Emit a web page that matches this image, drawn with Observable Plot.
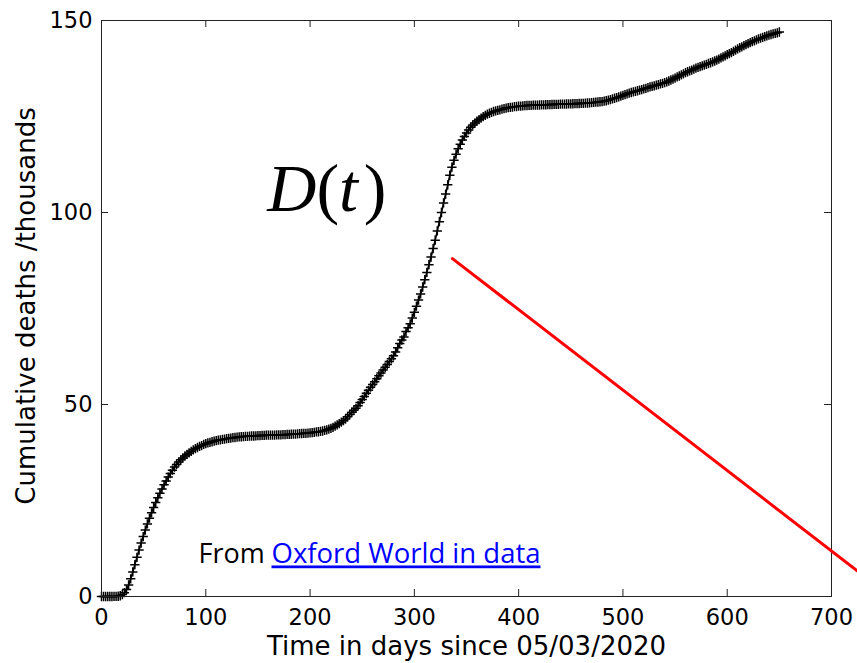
<!DOCTYPE html>
<html>
<head>
<meta charset="utf-8">
<script src="https://cdn.jsdelivr.net/npm/d3@7"></script>
<script src="https://cdn.jsdelivr.net/npm/@observablehq/plot@0.6"></script>
<style>
  html, body { margin: 0; padding: 0; background: #fff; }
  #chart svg { display: block; }
</style>
</head>
<body>
<div id="chart"></div>
<script>
// ---- data ----
// cumulative deaths (thousands), one reading every 2 days from day 0 to day 650
const dayStep = 2;
const deaths = [
  0, 0, 0, 0, 0, 0, 0.01, 0.03, 0.07, 0.2, 0.5, 1.0, 1.8, 3.0, 4.6, 6.4, 8.3, 10.2, 12.1, 13.9,
  15.6, 17.3, 18.9, 20.4, 21.8, 23.2, 24.5, 25.7, 26.9, 28.0, 29.1, 30.1, 31.1, 32.0, 32.9, 33.7, 34.4, 35.0, 35.6, 36.1,
  36.6, 37.0, 37.4, 37.8, 38.2, 38.5, 38.8, 39.1, 39.3, 39.6, 39.8, 40.0, 40.15, 40.3, 40.45, 40.6, 40.7, 40.8, 40.9, 41.0,
  41.1, 41.2, 41.25, 41.35, 41.4, 41.5, 41.55, 41.6, 41.65, 41.7, 41.7, 41.75, 41.8, 41.8, 41.85, 41.9, 41.9, 41.95, 41.95, 42.0,
  42.0, 42.0, 42.05, 42.05, 42.1, 42.1, 42.1, 42.15, 42.15, 42.2, 42.2, 42.25, 42.3, 42.3, 42.35, 42.4, 42.45, 42.5, 42.5, 42.55,
  42.6, 42.7, 42.75, 42.85, 42.9, 43.0, 43.1, 43.25, 43.4, 43.6, 43.8, 44.05, 44.35, 44.7, 45.0, 45.4, 45.8, 46.2, 46.8, 47.4,
  48.0, 48.5, 49.0, 49.7, 50.5, 51.3, 52.1, 52.9, 53.7, 54.5, 55.2, 55.9, 56.7, 57.5, 58.2, 59.0, 59.7, 60.4, 61.2, 61.9,
  62.7, 63.7, 64.8, 65.9, 66.8, 67.6, 69.0, 70.0, 71.0, 72.5, 74.0, 75.6, 77.2, 78.8, 80.6, 82.5, 84.4, 86.4, 88.4, 90.6,
  92.8, 95.2, 97.6, 100.0, 102.5, 104.8, 107.2, 109.7, 111.8, 113.6, 115.2, 116.6, 117.8, 118.9, 119.8, 120.7, 121.5, 122.2, 122.8, 123.3,
  123.8, 124.2, 124.6, 124.95, 125.3, 125.6, 125.85, 126.05, 126.3, 126.45, 126.6, 126.75, 126.9, 127.05, 127.2, 127.3, 127.4, 127.45, 127.55, 127.6,
  127.7, 127.72, 127.78, 127.82, 127.86, 127.9, 127.92, 127.94, 127.96, 127.98, 128.0, 128.02, 128.04, 128.06, 128.08, 128.1, 128.12, 128.14, 128.16, 128.18,
  128.2, 128.22, 128.24, 128.26, 128.28, 128.3, 128.32, 128.34, 128.36, 128.38, 128.4, 128.44, 128.48, 128.52, 128.56, 128.6, 128.66, 128.72, 128.78, 128.84,
  128.9, 129.0, 129.1, 129.25, 129.4, 129.6, 129.75, 129.9, 130.1, 130.3, 130.5, 130.7, 130.9, 131.1, 131.25, 131.4, 131.55, 131.7, 131.85, 132.0,
  132.2, 132.35, 132.5, 132.7, 132.85, 133.0, 133.15, 133.3, 133.5, 133.65, 133.8, 134.0, 134.25, 134.5, 134.75, 135.0, 135.3, 135.55, 135.85, 136.1,
  136.4, 136.65, 136.9, 137.1, 137.35, 137.6, 137.8, 138.0, 138.2, 138.4, 138.6, 138.8, 139.0, 139.2, 139.45, 139.7, 139.95, 140.25, 140.55, 140.8,
  141.1, 141.4, 141.65, 141.95, 142.3, 142.6, 142.9, 143.15, 143.45, 143.7, 144.0, 144.25, 144.5, 144.7, 144.95, 145.2, 145.4, 145.6, 145.8, 146.0,
  146.2, 146.35, 146.5, 146.65, 146.8, 147.0
];
const xTicks = [0, 100, 200, 300, 400, 500, 600, 700];
const yTicks = [0, 50, 100, 150];
// red pointer line (day, thousands)
const pointerDays = [336.5, 725];
const pointerValues = [88, 6.6];

const xLabel = "Time in days since 05/03/2020";
const yLabel = "Cumulative deaths /thousands";
const formulaLabel = "D(t)";
const sourcePrefix = "From";
const sourceLink = "Oxford World in data";

// ---- build tables ----
const series = deaths.map((v, i) => ({day: i * dayStep, deaths: v}));
const pointer = pointerDays.map((d, i) => ({day: d, deaths: pointerValues[i]}));

const W = 857, H = 663;
const mL = 101, mR = 26, mT = 20, mB = 67;
const frameW = W - mL - mR, frameH = H - mT - mB;
const tickLen = 7;
const axisColor = "#222";

const chart = Plot.plot({
  width: W,
  height: H,
  marginLeft: mL,
  marginRight: mR,
  marginTop: mT,
  marginBottom: mB,
  style: {fontFamily: "'DejaVu Sans', sans-serif", fontSize: "22.5px", background: "#fff", color: "#000", overflow: "visible"},
  x: {domain: [0, 700]},
  y: {domain: [0, 150]},
  marks: [
    Plot.line(series, {x: "day", y: "deaths", stroke: "#000", strokeWidth: 1.6}),
    Plot.dot(series, {x: "day", y: "deaths", symbol: "plus", r: 3.1, stroke: "#000", strokeWidth: 1.5}),
    Plot.frame({stroke: axisColor, strokeWidth: 1}),
    Plot.tickX(xTicks, {x: d => d, insetTop: frameH - tickLen, stroke: axisColor}),
    Plot.tickX(xTicks, {x: d => d, insetBottom: frameH - tickLen, stroke: axisColor}),
    Plot.tickY(yTicks, {y: d => d, insetRight: frameW - tickLen, stroke: axisColor}),
    Plot.tickY(yTicks, {y: d => d, insetLeft: frameW - tickLen, stroke: axisColor}),
    Plot.axisX({ticks: xTicks, tickSize: 0, tickPadding: 13, fontSize: 22.5, label: null, tickFormat: d => String(d)}),
    Plot.axisY({ticks: yTicks, tickSize: 0, tickPadding: 9, fontSize: 22.5, label: null, tickFormat: d => String(d)}),
    Plot.text([xLabel], {frameAnchor: "bottom", textAnchor: "middle", lineAnchor: "middle", dy: 50.5, fontSize: 26, fill: "#000"}),
    Plot.text([yLabel], {frameAnchor: "left", textAnchor: "middle", lineAnchor: "middle", rotate: -90, dx: -75, dy: -2.5, fontSize: 26, fill: "#000"}),
    Plot.line(pointer, {x: "day", y: "deaths", stroke: "#ff0000", strokeWidth: 3, clip: false}),
    Plot.text([formulaLabel], {x: () => 159, y: () => 100.5, textAnchor: "start", lineAnchor: "bottom", fontSize: 68, fontFamily: "'Liberation Serif', serif", fill: "#000"}),
    Plot.text([sourcePrefix], {x: () => 93, y: () => 8.6, textAnchor: "start", lineAnchor: "bottom", fontSize: 27, fontFamily: "'Open Sans', sans-serif", fill: "#000"}),
    Plot.text([sourceLink], {x: () => 163, y: () => 8.6, textAnchor: "start", lineAnchor: "bottom", fontSize: 27.5, fontFamily: "'Open Sans', sans-serif", fill: "#0000ff"})
  ]
});

// rich text: italic D and t in the formula, underline on the link
d3.select(chart).selectAll("text").each(function () {
  const t = this.textContent;
  if (t === formulaLabel) {
    const el = d3.select(this);
    el.text(null);
    el.append("tspan").attr("font-style", "italic").text("D");
    el.append("tspan").text("(");
    el.append("tspan").attr("font-style", "italic").text("t");
    el.append("tspan").text("\u200a)");
  } else if (t === sourceLink) {
    d3.select(this).style("text-decoration", "underline").style("text-decoration-thickness", "2px");
  }
});

document.getElementById("chart").appendChild(chart);
</script>
</body>
</html>
